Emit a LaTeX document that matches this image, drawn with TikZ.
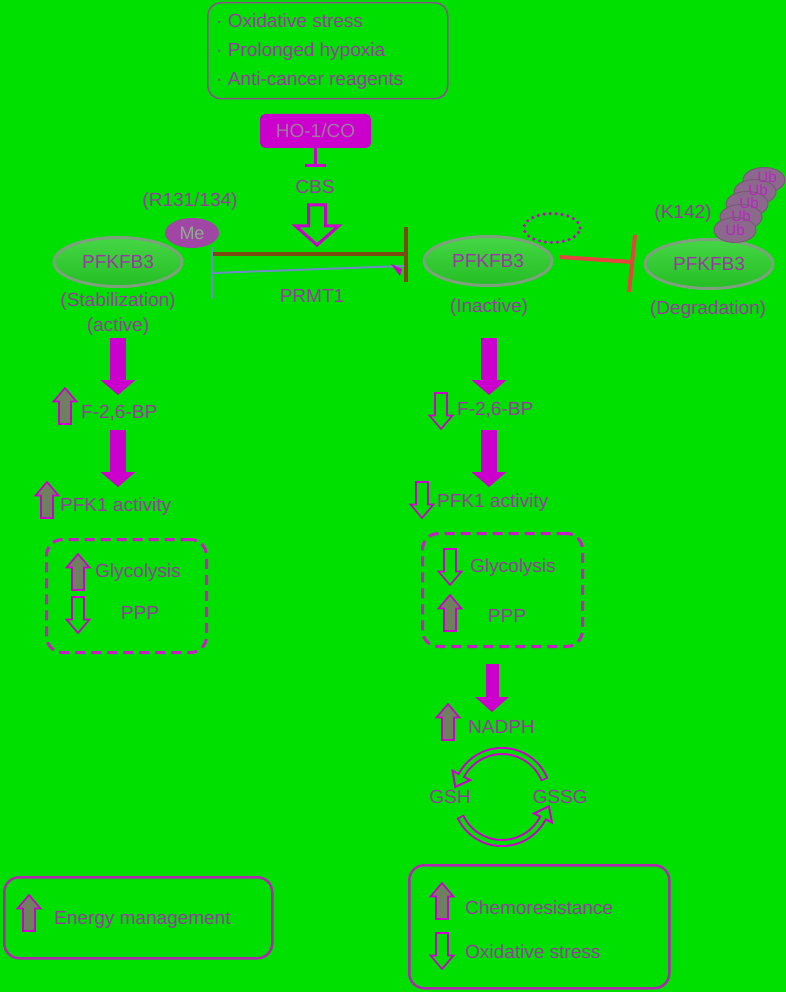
\documentclass[tikz,border=0pt]{standalone}
\usepackage{fontspec}
\setmainfont{Liberation Sans}
\usetikzlibrary{shapes.geometric,arrows.meta}
\definecolor{bg}{RGB}{0,224,0}
\definecolor{txt}{RGB}{155,55,165}
\definecolor{mag}{RGB}{204,0,204}
\definecolor{dashmag}{RGB}{196,30,196}
\definecolor{boxgray}{RGB}{140,80,140}
\definecolor{boxmag}{RGB}{176,40,176}
\definecolor{upfill}{RGB}{110,128,96}
\definecolor{hotext}{RGB}{160,120,160}
\definecolor{mefill}{RGB}{160,70,165}
\definecolor{metext}{RGB}{140,175,140}
\definecolor{ubfill}{RGB}{140,105,140}
\definecolor{ubedge}{RGB}{120,90,120}
\definecolor{ubtext}{RGB}{180,40,190}
\definecolor{pfkedge}{RGB}{125,160,125}
\definecolor{pfktop}{RGB}{70,214,70}
\definecolor{pfkbot}{RGB}{35,190,35}
\definecolor{brownl}{RGB}{122,74,18}
\definecolor{bluel}{RGB}{110,140,195}
\definecolor{redl}{RGB}{226,70,60}
\tikzset{
  lbl/.style={font=\fontsize{19}{22}\selectfont, text=txt, inner sep=0pt},
  pfk/.style={ellipse, minimum width=128pt, minimum height=49pt, draw=pfkedge, line width=3pt, top color=pfktop, bottom color=pfkbot, lbl},
  ubnode/.style={ellipse, minimum width=42pt, minimum height=25pt, fill=ubfill, draw=ubedge, line width=1pt, inner sep=0pt},
  ubtxt/.style={inner sep=0pt, font=\fontsize{15}{18}\selectfont, text=ubtext},
  fat/.style={mag, line width=16pt, -{Triangle[width=34pt,length=15pt]}},
  solidbox/.style={draw=boxmag, line width=2.5pt, rounded corners=15pt, anchor=north west},
  dashbox/.style={draw=dashmag, line width=3pt, dash pattern=on 10pt off 6pt, rounded corners=16pt, anchor=north west},
  uparr/.pic={\filldraw[fill=upfill, draw=mag, line width=1.6pt, line join=miter] (0,-18) -- (11.5,-4.5) -- (6,-4.5) -- (6,18) -- (-6,18) -- (-6,-4.5) -- (-11.5,-4.5) -- cycle;},
  dnarr/.pic={\draw[draw=mag, line width=1.6pt, line join=miter] (0,18) -- (11.5,4.5) -- (6,4.5) -- (6,-18) -- (-6,-18) -- (-6,4.5) -- (-11.5,4.5) -- cycle;},
}
\begin{document}
\begin{tikzpicture}[x=1pt,y=-1pt]
\fill[bg] (0,0) rectangle (786,992);
\useasboundingbox (0,0) rectangle (786,992);

% top box
\node[draw=boxgray, line width=1.5pt, rounded corners=13pt, minimum width=240pt, minimum height=96pt, anchor=north west] (stress) at (207,2) {};
\node[lbl, anchor=west] (s1) at (216,21) {· Oxidative stress};
\node[lbl, anchor=west] (s2) at (216,52) {· Prolonged hypoxia};
\node[lbl, anchor=west] (s3) at (216,81) {· Anti-cancer reagents};

% HO-1/CO
\node[fill=mag, rounded corners=5pt, minimum width=111pt, minimum height=34pt, inner sep=0pt, font=\fontsize{19}{22}\selectfont, text=hotext] (ho) at (315.5,131) {HO-1/CO};
\coordinate (hobar) at (315.5,166);
\draw[mag, line width=3pt] (ho.south) -- (hobar);
\draw[mag, line width=3pt] ([xshift=-10.5pt]hobar) -- ([xshift=10.5pt]hobar);
\node[lbl] (cbs) at (315,187) {CBS};

% CBS hollow arrow
\draw[mag, line width=3pt, line join=miter] (308.5,205) -- (325.5,205) -- (325.5,226) -- (338.5,226) -- (317,245) -- (295.5,226) -- (308.5,226) -- cycle;

% brown inhibition line
\draw[brownl, line width=4.5pt] (213,254) -- (406,254);
\draw[brownl, line width=4.5pt] (406,227) -- (406,282);

% PFKFB3 ellipses
\node[pfk] (p1) at (118,262) {PFKFB3};
\node[pfk] (p2) at (488,261) {PFKFB3};
\node[pfk] (p3) at (709,264) {PFKFB3};

% Me
\node[ellipse, fill=mefill, minimum width=54pt, minimum height=30pt, inner sep=0pt, font=\fontsize{18}{21}\selectfont, text=metext] (me) at (192,233) {Me};
\node[lbl] (r131) at (190,202) {(R131/134)};

% blue PRMT1 line
\draw[bluel, line width=2pt] (212,247) -- (212,299);
\draw[bluel, line width=2pt] (212,273) -- (404,266);
\fill[mag] (391,264) -- (402,269) -- (400,276) -- cycle;
\node[lbl] (prmt) at (312,296) {PRMT1};

% labels under ellipses
\node[lbl] (stab) at (118,302) {(Stabilization)};
\node[lbl] (act) at (118,327) {(active)};
\node[lbl] (inact) at (489,308) {(Inactive)};
\node[lbl] (degr) at (708,310) {(Degradation)};
\node[lbl] (k142) at (683,214) {(K142)};

% dotted ellipse
\draw[mag, line width=3.5pt, dash pattern=on 0pt off 6pt, line cap=round] (552,228) ellipse [x radius=28pt, y radius=14.5pt];

% red inhibition
\draw[redl, line width=4pt] (560,257) -- (632,262);
\draw[redl, line width=4pt] (635,235) -- (629,292);

% Ub stack
\node[ubnode] (ue5) at (764,180) {};
\node[ubnode] (ue4) at (755,192) {};
\node[ubnode] (ue3) at (747,204) {};
\node[ubnode] (ue2) at (741,217) {};
\node[ubnode] (ue1) at (735,230) {};
\node[ubtxt] (ub5) at (767,177) {Ub};
\node[ubtxt] (ub4) at (758,190) {Ub};
\node[ubtxt] (ub3) at (749,203) {Ub};
\node[ubtxt] (ub2) at (741,216) {Ub};
\node[ubtxt] (ub1) at (735,230) {Ub};

% left column
\draw[fat] (118,338) -- (118,395);
\pic at (65,406) {uparr};
\node[lbl, anchor=west] (f26l) at (81,413) {F-2,6-BP};
\draw[fat] (118,430) -- (118,487);
\pic at (47,500) {uparr};
\node[lbl, anchor=west] (pfk1l) at (60,507) {PFK1 activity};
\node[dashbox, minimum width=160pt, minimum height=113pt] (boxl) at (45,538) {};
\pic at (78,572) {uparr};
\node[lbl, anchor=west] (glyl) at (95,573) {Glycolysis};
\pic at (78,615) {dnarr};
\node[lbl] (pppl) at (140,613) {PPP};

% right column
\draw[fat] (489,338) -- (489,395);
\pic at (441,411) {dnarr};
\node[lbl, anchor=west] (f26r) at (457,410) {F-2,6-BP};
\draw[fat] (489,430) -- (489,487);
\pic at (422,500) {dnarr};
\node[lbl, anchor=west] (pfk1r) at (437,503) {PFK1 activity};
\node[dashbox, minimum width=160pt, minimum height=113pt] (boxr) at (421,532) {};
\pic at (450,567) {dnarr};
\node[lbl, anchor=west] (glyr) at (470,568) {Glycolysis};
\pic at (450,613) {uparr};
\node[lbl] (pppr) at (507,616) {PPP};

% NADPH
\draw[mag, line width=13pt, -{Triangle[width=33pt,length=15pt]}] (492,664) -- (492,712);
\pic at (448,722) {uparr};
\node[lbl, anchor=west] (nadph) at (468,727) {NADPH};

% GSH / GSSG cycle
\node[lbl] (gsh) at (450,797) {GSH};
\node[lbl] (gssg) at (560,797) {GSSG};
\draw[mag, line width=8pt] plot[domain=22:152, samples=40] ({502+46*cos(\x)},{797-46*sin(\x)});
\filldraw[fill=bg, draw=mag, line width=2pt, line join=miter] (470.2,780.1) -- (455.3,786.9) -- (452.6,770.7) -- cycle;
\draw[bg, line width=4pt] plot[domain=24:156, samples=40] ({502+46*cos(\x)},{797-46*sin(\x)});
\draw[mag, line width=8pt] plot[domain=205:333, samples=40] ({502+46*cos(\x)},{797-46*sin(\x)});
\filldraw[fill=bg, draw=mag, line width=2pt, line join=miter] (551.9,822.4) -- (548.9,806.3) -- (534.1,813.4) -- cycle;
\draw[bg, line width=4pt] plot[domain=207:337, samples=40] ({502+46*cos(\x)},{797-46*sin(\x)});

% bottom boxes
\node[solidbox, minimum width=268pt, minimum height=81pt] (energybox) at (3,876) {};
\pic at (29,913) {uparr};
\node[lbl, anchor=west] (energy) at (54,920) {Energy management};
\node[solidbox, minimum width=260pt, minimum height=123pt] (chemobox) at (408,864) {};
\pic at (442,901) {uparr};
\node[lbl, anchor=west] (chemo) at (465,908) {Chemoresistance};
\pic at (442,951) {dnarr};
\node[lbl, anchor=west] (oxs) at (465,952) {Oxidative stress};
\end{tikzpicture}
\end{document}
